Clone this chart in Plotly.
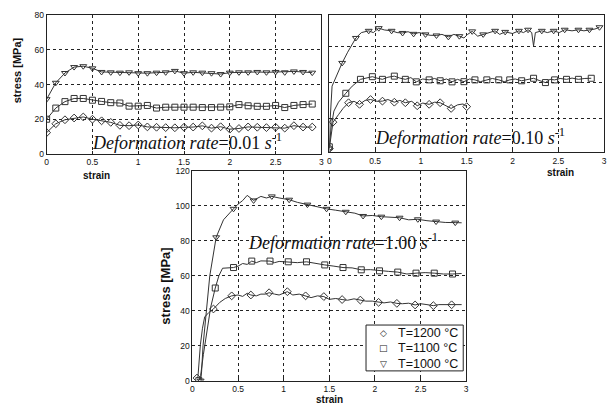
import plotly.graph_objects as go

# ---------------- Panel 1: deformation rate 0.01 s^-1 ----------------
p1_strain = [0, 0.1, 0.2, 0.3, 0.4, 0.5, 0.6, 0.7, 0.8, 0.9, 1.0, 1.1, 1.2, 1.3, 1.4,
             1.5, 1.6, 1.7, 1.8, 1.9, 2.0, 2.1, 2.2, 2.3, 2.4, 2.5, 2.6, 2.7, 2.8, 2.9]
p1_t1000 = [31.6, 41, 46.6, 50, 50.5, 49.3, 47.2, 47, 46.8, 47, 46.5, 46.5, 46.8, 47, 47.8,
            46.5, 47, 46.8, 46.5, 46, 46.8, 47, 47, 47.2, 47, 47.2, 47, 47.5, 47.2, 46.8]
p1_t1100 = [20.1, 26.5, 30.2, 32, 32, 31, 30.3, 29.6, 29.4, 27.6, 27.6, 28, 26.5, 27, 27,
            27, 27, 26.8, 26.8, 27, 27.2, 28.5, 27.8, 27.5, 27.5, 28, 26.8, 28, 28.5, 28.8]
p1_t1200 = [12.4, 17.5, 19.8, 20.8, 21.4, 20.1, 19.2, 18.3, 16.6, 16.4, 16.8, 15.7, 15.5, 15.3, 15.2,
            15.5, 15.6, 16.3, 15, 15.8, 14.4, 14.8, 15.7, 15.5, 15.3, 15.5, 15, 16.4, 15.6, 15.6]

# ---------------- Panel 2: deformation rate 0.10 s^-1 ----------------
p2_t1000_line_x = [0, 0.01, 0.03, 0.08, 0.14, 0.2, 0.29, 0.35, 0.43, 0.48, 0.54, 0.6, 0.68, 0.74,
                   0.80, 0.86, 0.92, 0.98, 1.05, 1.1, 1.17, 1.23, 1.30, 1.36, 1.42, 1.47, 1.51,
                   1.56, 1.62, 1.68, 1.74, 1.81, 1.86, 1.92, 2.0, 2.07, 2.12, 2.17, 2.21, 2.23,
                   2.25, 2.32, 2.38, 2.45, 2.51, 2.57, 2.65, 2.72, 2.78, 2.84, 2.9, 2.95]
p2_t1000_line_y = [3, 20, 38, 44, 51, 57, 65, 68, 69, 68, 70.5, 69.5, 69, 68, 67.8, 68.5, 67.3,
                   68, 67, 66.5, 66.4, 67, 65.6, 67, 66, 65, 67, 68.7, 66, 67, 68, 69, 67, 68.4,
                   67.5, 69, 68, 69.6, 68, 60.5, 68, 69, 68, 69, 68, 69.6, 69, 69.6, 69, 69.6,
                   70, 71]
p2_t1000_mk_x = [0, 0.14, 0.29, 0.43, 0.54, 0.68, 0.80, 0.92, 1.05, 1.17, 1.30, 1.42, 1.56,
                 1.68, 1.81, 1.92, 2.07, 2.17, 2.32, 2.45, 2.57, 2.72, 2.84, 2.95]
p2_t1000_mk_y = [3, 51, 65, 69, 70.5, 69, 67.8, 67.3, 67, 66.4, 65.6, 66, 68.7, 67, 69, 68.4,
                 69, 69.6, 69, 69, 69.6, 69.6, 69.6, 71]

p2_t1100_line_x = [0, 0.02, 0.05, 0.1, 0.18, 0.25, 0.34, 0.4, 0.47, 0.52, 0.58, 0.64, 0.71,
                   0.77, 0.83, 0.89, 0.95, 1.02, 1.09, 1.15, 1.21, 1.28, 1.34, 1.4, 1.47, 1.53,
                   1.59, 1.65, 1.72, 1.78, 1.85, 1.91, 1.97, 2.03, 2.10, 2.16, 2.23, 2.3, 2.36,
                   2.41, 2.46, 2.52, 2.59, 2.65, 2.72, 2.79, 2.86]
p2_t1100_line_y = [4, 15, 24, 29, 34, 38, 41.8, 42.5, 43.3, 42.5, 41.8, 43, 43.6, 42.5, 41.8,
                   42.8, 40.4, 42, 41.5, 42.3, 41, 42, 40.4, 41.8, 40.5, 42, 41.5, 40.5, 41.5,
                   42.3, 41.5, 40.5, 41.5, 42, 41, 41.8, 42.4, 41, 40, 41.8, 41.5, 42.3, 41.8,
                   42.5, 41.8, 42.3, 42.4]
p2_t1100_mk_x = [0, 0.18, 0.34, 0.47, 0.58, 0.71, 0.83, 0.95, 1.09, 1.21, 1.34, 1.47, 1.59,
                 1.72, 1.85, 1.97, 2.10, 2.23, 2.36, 2.46, 2.59, 2.72, 2.86]
p2_t1100_mk_y = [4, 34, 41.8, 43.3, 41.8, 43.6, 41.8, 40.4, 41.5, 41, 40.4, 40.5, 41.5, 41.5,
                 41.5, 41.5, 41, 42.4, 40, 41.5, 41.8, 41.8, 42.4]

p2_t1200_line_x = [0, 0.02, 0.04, 0.1, 0.15, 0.21, 0.27, 0.33, 0.39, 0.45, 0.52, 0.58, 0.64,
                   0.71, 0.77, 0.83, 0.9, 0.96, 1.02, 1.09, 1.15, 1.21, 1.27, 1.33, 1.4, 1.46, 1.5]
p2_t1200_line_y = [3, 12, 17.8, 22, 25.5, 28.7, 29.5, 27.8, 30, 30.5, 29.5, 29.6, 30.5, 29, 30,
                   28.7, 29.5, 27, 28.5, 27.8, 29, 28.7, 27, 25.5, 27.5, 28, 26.5]
p2_t1200_mk_x = [0, 0.04, 0.21, 0.33, 0.45, 0.58, 0.71, 0.83, 0.96, 1.09, 1.21, 1.33, 1.5]
p2_t1200_mk_y = [3, 17.8, 28.7, 27.8, 30.5, 29.6, 29, 28.7, 27, 27.8, 28.7, 25.5, 26.5]

# ---------------- Panel 3: deformation rate 1.00 s^-1 ----------------
p3_t1000_line_x = [0.09, 0.1, 0.116, 0.15, 0.19, 0.26, 0.34, 0.45, 0.5, 0.55, 0.6, 0.67, 0.75,
                   0.81, 0.87, 0.95, 1.06, 1.15, 1.26, 1.35, 1.47, 1.57, 1.68, 1.78, 1.87, 1.97,
                   2.07, 2.17, 2.27, 2.37, 2.47, 2.57, 2.67, 2.77, 2.88, 2.95]
p3_t1000_line_y = [0, 5, 20, 40, 60, 82, 92, 98.3, 101, 103, 106, 103.1, 105.4, 104.5, 105.4,
                   104.5, 103.5, 102, 100.7, 99.5, 98.3, 97.5, 96.6, 95.8, 94.2, 94.5, 93.8,
                   93.5, 93.2, 92, 92.3, 91.5, 91, 90.5, 90.4, 90.3]
p3_t1000_mk_x = [0.09, 0.26, 0.45, 0.67, 0.87, 1.06, 1.26, 1.47, 1.68, 1.87, 2.07, 2.27, 2.47,
                 2.67, 2.88]
p3_t1000_mk_y = [0, 82, 98.3, 103.1, 105.4, 103.5, 100.7, 98.3, 96.6, 94.2, 93.8, 93.2, 92.3,
                 91, 90.4]

p3_t1100_line_x = [0.07, 0.09, 0.12, 0.16, 0.2, 0.25, 0.29, 0.33, 0.38, 0.45, 0.5, 0.55, 0.6,
                   0.65, 0.7, 0.75, 0.85, 0.9, 0.95, 1.05, 1.15, 1.25, 1.35, 1.45, 1.55, 1.65,
                   1.75, 1.85, 1.95, 2.05, 2.15, 2.25, 2.35, 2.45, 2.55, 2.65, 2.75, 2.85, 2.95]
p3_t1100_line_y = [0, 3, 15, 30, 42, 53, 60, 64.3, 64.5, 64.7, 65.5, 67, 66.5, 68.4, 67.5, 68.5,
                   68.4, 67.5, 68.2, 68, 67.5, 68, 67, 66.2, 65.5, 64.7, 64.5, 63.4, 63.5, 62.8,
                   62.5, 62.1, 61, 61.5, 61.8, 61.5, 61, 61, 61.3]
p3_t1100_mk_x = [0.07, 0.25, 0.45, 0.65, 0.85, 1.05, 1.25, 1.45, 1.65, 1.85, 2.05, 2.25, 2.45,
                 2.65, 2.85]
p3_t1100_mk_y = [0, 53, 64.7, 68.4, 68.4, 68, 68, 66.2, 64.7, 63.4, 62.8, 62.1, 61.5, 61.5, 61]

p3_t1200_line_x = [0.05, 0.06, 0.087, 0.11, 0.134, 0.18, 0.23, 0.3, 0.36, 0.43, 0.5, 0.55, 0.6,
                   0.64, 0.7, 0.75, 0.8, 0.84, 0.9, 0.95, 1.04, 1.1, 1.17, 1.24, 1.3, 1.37, 1.44,
                   1.5, 1.57, 1.64, 1.7, 1.77, 1.84, 1.9, 1.97, 2.04, 2.1, 2.17, 2.24, 2.3, 2.37,
                   2.44, 2.5, 2.57, 2.64, 2.7, 2.77, 2.84, 2.95]
p3_t1200_line_y = [1.5, 2, 20.5, 30, 36.4, 39, 41, 44.8, 47, 48.5, 49, 48.2, 50, 49, 48.5, 49.5,
                   49.5, 50.3, 49.5, 49, 50.9, 49, 49.5, 48.5, 47.5, 48.5, 48.1, 46.5, 47, 46.4,
                   46, 46.8, 46.1, 45.5, 45.5, 44.8, 44.5, 45, 44.2, 44, 44.3, 43.3, 44, 43.5,
                   42.9, 43.5, 43.5, 43.4, 43.5]
p3_t1200_mk_x = [0.05, 0.23, 0.43, 0.64, 0.84, 1.04, 1.24, 1.44, 1.64, 1.84, 2.04, 2.24, 2.44,
                 2.64, 2.84]
p3_t1200_mk_y = [1.5, 41, 48.5, 49, 50.3, 50.9, 48.5, 48.1, 46.4, 46.1, 44.8, 44.2, 43.3, 42.9,
                 43.4]

series_names = ["T=1200 °C", "T=1100 °C", "T=1000 °C"]
legend_glyphs = ["◇", "□", "▽"]
x_ticks = [0, 0.5, 1, 1.5, 2, 2.5, 3]
x_ticklabels = ["0", "0.5", "1", "1.5", "2", "2.5", "3"]
y_ticks_small = [0, 20, 40, 60, 80]
y_ticks_big = [0, 20, 40, 60, 80, 100, 120]
rate_labels = ["0.01", "0.10", "1.00"]

LINE_COLOR = "#333333"
MK_COLOR = "#333333"
symbols = {"T=1200 °C": "diamond-open", "T=1100 °C": "square-open", "T=1000 °C": "triangle-down-open"}

fig = go.Figure()


def add_series(xl, yl, xm, ym, name, xa, ya):
    fig.add_trace(go.Scatter(x=xl, y=yl, mode="lines", xaxis=xa, yaxis=ya,
                             line=dict(color=LINE_COLOR, width=1), showlegend=False,
                             hoverinfo="skip"))
    fig.add_trace(go.Scatter(x=xm, y=ym, mode="markers", xaxis=xa, yaxis=ya, name=name,
                             marker=dict(symbol=symbols[name], size=6, color=MK_COLOR,
                                         line=dict(width=1, color=MK_COLOR)),
                             showlegend=False))


# panel 1
add_series(p1_strain, p1_t1000, p1_strain, p1_t1000, "T=1000 °C", "x", "y")
add_series(p1_strain, p1_t1100, p1_strain, p1_t1100, "T=1100 °C", "x", "y")
add_series(p1_strain, p1_t1200, p1_strain, p1_t1200, "T=1200 °C", "x", "y")
# panel 2
add_series(p2_t1000_line_x, p2_t1000_line_y, p2_t1000_mk_x, p2_t1000_mk_y, "T=1000 °C", "x2", "y2")
add_series(p2_t1100_line_x, p2_t1100_line_y, p2_t1100_mk_x, p2_t1100_mk_y, "T=1100 °C", "x2", "y2")
add_series(p2_t1200_line_x, p2_t1200_line_y, p2_t1200_mk_x, p2_t1200_mk_y, "T=1200 °C", "x2", "y2")
# panel 3
add_series(p3_t1200_line_x, p3_t1200_line_y, p3_t1200_mk_x, p3_t1200_mk_y, "T=1200 °C", "x3", "y3")
add_series(p3_t1100_line_x, p3_t1100_line_y, p3_t1100_mk_x, p3_t1100_mk_y, "T=1100 °C", "x3", "y3")
add_series(p3_t1000_line_x, p3_t1000_line_y, p3_t1000_mk_x, p3_t1000_mk_y, "T=1000 °C", "x3", "y3")

W, H = 616, 412


def px_dom_x(a, b):
    return [a / W, b / W]


def px_dom_y(top, bottom):
    return [1 - bottom / H, 1 - top / H]


TICKFONT = dict(family="Liberation Sans, Arial", size=8.5, color="#111")
axis_common = dict(showline=True, linecolor="#222", linewidth=1, mirror=True,
                   ticks="inside", ticklen=3, tickcolor="#222", tickfont=TICKFONT,
                   showgrid=True, gridcolor="#222", gridwidth=1, griddash="dot",
                   zeroline=False, fixedrange=True)

fig.update_layout(
    width=W, height=H, margin=dict(l=0, r=0, t=0, b=0),
    paper_bgcolor="white", plot_bgcolor="white", showlegend=False,
    xaxis=dict(domain=px_dom_x(45, 322), range=[0, 3], tickvals=x_ticks, ticktext=x_ticklabels,
               anchor="y", **axis_common),
    yaxis=dict(domain=px_dom_y(10, 153), range=[0, 80], tickvals=y_ticks_small,
               anchor="x", **axis_common),
    xaxis2=dict(domain=px_dom_x(330, 607), range=[0, 3], tickvals=x_ticks, ticktext=x_ticklabels,
                anchor="y2", **axis_common),
    yaxis2=dict(domain=px_dom_y(10, 151), range=[0.9, 78], tickvals=y_ticks_small,
                showticklabels=False, anchor="x2", **axis_common),
    xaxis3=dict(domain=px_dom_x(192, 468), range=[0, 3], tickvals=x_ticks, ticktext=x_ticklabels,
                anchor="y3", **axis_common),
    yaxis3=dict(domain=px_dom_y(170, 385), range=[0, 120], tickvals=y_ticks_big,
                anchor="x3", **axis_common),
)

TITLE_FONT = dict(family="Liberation Sans, Arial", size=10, color="#111")
YTITLE_FONT1 = dict(family="Liberation Sans, Arial", size=11, color="#111")
YTITLE_FONT3 = dict(family="Liberation Sans, Arial", size=13, color="#111")
RATE_FONT = dict(family="Liberation Serif, Times New Roman", size=18, color="#111")
LEG_FONT = dict(family="Liberation Sans, Arial", size=12.5, color="#111")
GLYPH_FONT = dict(family="DejaVu Sans", size=9, color="#222")


def ann(x, y, text, font, angle=0, xanchor="center"):
    fig.add_annotation(x=x / W, y=1 - y / H, xref="paper", yref="paper", text=text,
                       showarrow=False, font=font, textangle=angle,
                       xanchor=xanchor, yanchor="middle")


# axis titles
ann(95, 175, "<b>strain</b>", TITLE_FONT)
ann(15, 67, "<b>stress [MPa]</b>", YTITLE_FONT1, -90)
ann(563, 172, "<b>strain</b>", TITLE_FONT)
ann(330, 404, "<b>strain</b>", TITLE_FONT)
ann(164, 288, "<b>stress [MPa]</b>", YTITLE_FONT3, -90)

# deformation rate labels
ann(187, 140, "<i>Deformation rate</i>=%s <i>s</i><sup>-1</sup>" % rate_labels[0], RATE_FONT)
ann(472, 135, "<i>Deformation rate</i>=%s <i>s</i><sup>-1</sup>" % rate_labels[1], RATE_FONT)
ann(344, 242, "<i>Deformation rate</i>=%s <i>s</i><sup>-1</sup>" % rate_labels[2], RATE_FONT)

# legend box (panel 3, lower right)
fig.add_shape(type="rect", xref="paper", yref="paper",
              x0=367 / W, x1=465 / W, y0=1 - 375 / H, y1=1 - 328 / H,
              line=dict(color="#222", width=1), fillcolor="white", layer="above")
for i, (g, name) in enumerate(zip(legend_glyphs, series_names)):
    yrow = 336 + i * 16
    ann(385, yrow, g, GLYPH_FONT)
    ann(397, yrow, name, LEG_FONT, xanchor="left")

fig.write_html("out.html", config={"displayModeBar": False},
               post_script="document.body.style.margin='0';")
